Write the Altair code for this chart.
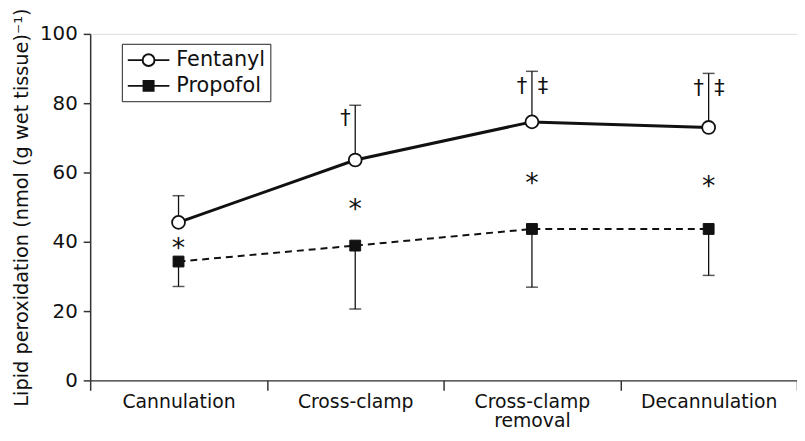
import altair as alt
import pandas as pd

categories = ["Cannulation", "Cross-clamp", "Cross-clamp removal", "Decannulation"]
fentanyl_mean = [45.6, 63.6, 74.6, 73.0]
fentanyl_upper = [53.3, 79.4, 89.2, 88.6]
propofol_mean = [34.3, 38.9, 43.7, 43.7]
propofol_lower = [27.1, 20.6, 26.9, 30.3]
star_y = [39.2, 50.6, 58.1, 57.2]
dagger_y = [None, 75.5, 84.6, 84.0]
ddagger_y = [None, None, 84.6, 84.0]
series = ["Fentanyl", "Propofol"]

df = pd.DataFrame({
    "cat": categories,
    "fent": fentanyl_mean,
    "fent_hi": fentanyl_upper,
    "prop": propofol_mean,
    "prop_lo": propofol_lower,
    "star": star_y,
    "dag": dagger_y,
    "ddag": ddagger_y,
})
leg_df = pd.DataFrame({"group": series})

FONT = "DejaVu Sans"
INK = "#111111"
AXC = "#333333"

x_enc = alt.X(
    "cat:N",
    sort=categories,
    title=None,
    scale=alt.Scale(paddingInner=0, paddingOuter=0),
    axis=alt.Axis(
        labelExpr="datum.value == 'Cross-clamp removal' ? ['Cross-clamp', 'removal'] : datum.value",
        labelAngle=0,
        labelFontSize=19,
        labelFont=FONT,
        labelColor=INK,
        labelPadding=17,
        labelBaseline="alphabetic",
        labelLineHeight=20,
        tickBand="extent",
        tickSize=10,
        tickColor=AXC,
        tickWidth=1.5,
        domainColor=AXC,
        domainWidth=1.5,
        grid=False,
    ),
)

y_scale = alt.Scale(domain=[0, 100], nice=False)
y_axis = alt.Axis(
    values=[0, 20, 40, 60, 80, 100],
    labelFontSize=20,
    labelFont=FONT,
    labelColor=INK,
    labelPadding=6,
    tickSize=7,
    tickColor=AXC,
    tickWidth=1.5,
    domainColor=AXC,
    domainWidth=1.5,
    grid=False,
    title="Lipid peroxidation (nmol (g wet tissue)\u207b\u00b9)",
    titleFont=FONT,
    titleFontSize=19.5,
    titleFontWeight="normal",
    titleColor=INK,
    titlePadding=8,
)

base = alt.Chart(df)

fent_line = base.mark_line(color=INK, strokeWidth=3).encode(
    x=x_enc, y=alt.Y("fent:Q", scale=y_scale, axis=y_axis)
)
prop_line = base.mark_line(color=INK, strokeWidth=2, strokeDash=[7, 5]).encode(
    x=x_enc, y=alt.Y("prop:Q")
)
fent_err = base.mark_rule(color=INK, strokeWidth=1.3).encode(
    x=x_enc, y="fent:Q", y2="fent_hi:Q"
)
fent_cap = base.mark_tick(color=INK, size=12, thickness=1.5).encode(
    x=x_enc, y="fent_hi:Q"
)
prop_err = base.mark_rule(color=INK, strokeWidth=1.3).encode(
    x=x_enc, y="prop:Q", y2="prop_lo:Q"
)
prop_cap = base.mark_tick(color=INK, size=12, thickness=1.5).encode(
    x=x_enc, y="prop_lo:Q"
)
fent_pts = base.mark_point(
    shape="circle", filled=True, fill="white", stroke=INK, strokeWidth=1.8, size=170, opacity=1
).encode(x=x_enc, y="fent:Q")
prop_pts = base.mark_point(
    shape="square", filled=True, fill=INK, stroke=INK, strokeWidth=1, size=120, opacity=1
).encode(x=x_enc, y="prop:Q")

star_txt = base.mark_text(
    text="*", font=FONT, fontSize=27, color=INK, baseline="middle", dy=5
).encode(x=x_enc, y="star:Q")
dag_txt = base.transform_filter("isValid(datum.dag)").mark_text(
    text="\u2020", font=FONT, fontSize=21, color=INK, baseline="middle", dx=-10
).encode(x=x_enc, y="dag:Q")
ddag_txt = base.transform_filter("isValid(datum.ddag)").mark_text(
    text="\u2021", font=FONT, fontSize=21, color=INK, baseline="middle", dx=11
).encode(x=x_enc, y="ddag:Q")

circle_path = (
    "M-1,0H0.43M1.57,0H3"
    "M0.43,0C0.43,-0.315,0.685,-0.57,1,-0.57C1.315,-0.57,1.57,-0.315,1.57,0"
    "C1.57,0.315,1.315,0.57,1,0.57C0.685,0.57,0.43,0.315,0.43,0Z"
)
square_path = "M-1,0H0.52M1.48,0H3M0.52,-0.48H1.48V0.48H0.52Z"

leg = alt.Legend(
    title=None,
    orient="none",
    legendX=32,
    legendY=10,
    strokeColor="#222222",
    padding=5,
    symbolSize=441,
    symbolStrokeWidth=2,
    symbolOpacity=1,
    labelFont=FONT,
    labelFontSize=21,
    labelColor=INK,
    labelOffset=27,
    rowPadding=4,
    fillColor="white",
)

legend_layer = alt.Chart(leg_df).transform_filter("false").mark_point(
    filled=True, strokeWidth=2, opacity=1
).encode(
    x=x_enc,
    y=alt.Y("v:Q"),
    shape=alt.Shape(
        "group:N",
        scale=alt.Scale(domain=series, range=[circle_path, square_path]),
        legend=leg,
    ),
    fill=alt.Fill(
        "group:N",
        scale=alt.Scale(domain=series, range=["white", INK]),
        legend=leg,
    ),
    stroke=alt.Stroke(
        "group:N",
        scale=alt.Scale(domain=series, range=[INK, INK]),
        legend=leg,
    ),
)

chart = alt.layer(
    fent_line, prop_line, fent_err, fent_cap, prop_err, prop_cap,
    fent_pts, prop_pts, star_txt, dag_txt, ddag_txt, legend_layer,
).properties(
    width=714,
    height=350,
    autosize=alt.AutoSizeParams(type="none"),
    padding={"left": 83, "top": 24, "right": 0, "bottom": 51},
).configure_view(stroke=None).configure(background="white")

chart.save("out.html", embed_options={"renderer": "svg", "actions": False})
